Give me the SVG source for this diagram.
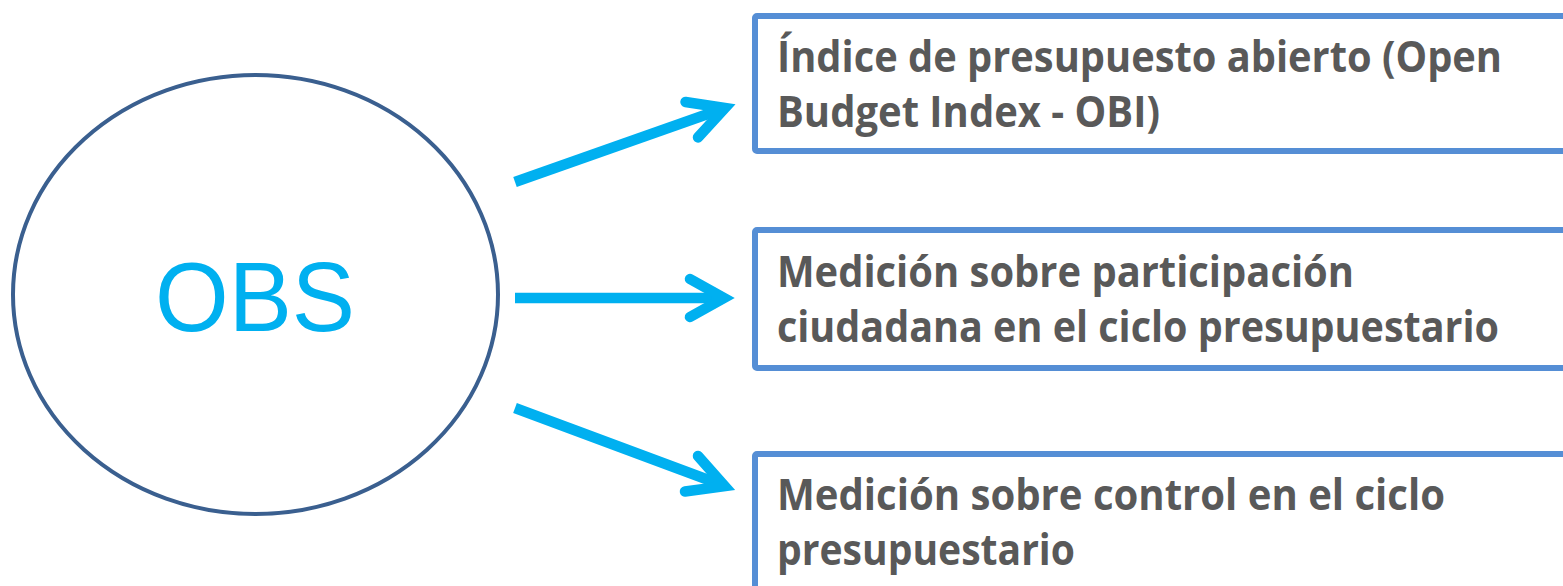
<svg xmlns="http://www.w3.org/2000/svg" width="1563" height="586" viewBox="0 0 1563 586">
<style>
.box{fill:#ffffff;stroke:#558ED5;stroke-width:6}
.lbl{font-family:"Open Sans","Liberation Sans",sans-serif;font-weight:700;font-size:43px;fill:#595959}
.shaft{fill:none;stroke:#00B0F0;stroke-width:10.5;stroke-linecap:butt}
.head{fill:none;stroke:#00B0F0;stroke-width:10.5;stroke-linecap:round;stroke-linejoin:miter;stroke-miterlimit:10}
</style>
<rect width="1563" height="586" fill="#ffffff"/>
<g id="obs">
<ellipse cx="255.5" cy="294.5" rx="242.5" ry="219.5" fill="#ffffff" stroke="#3A5F8F" stroke-width="4"/>
<text x="255" y="331" text-anchor="middle" font-family="Liberation Sans, Arial, sans-serif" font-size="98" textLength="200" lengthAdjust="spacingAndGlyphs" fill="#00B0F0">OBS</text>
</g>
<g id="box-obi">
<rect class="box" x="755" y="16" width="900" height="135" rx="2"/>
<text class="lbl" x="777" y="72" textLength="725" lengthAdjust="spacingAndGlyphs">Índice de presupuesto abierto (Open</text>
<text class="lbl" x="777" y="127" textLength="383" lengthAdjust="spacingAndGlyphs">Budget Index - OBI)</text>
</g>
<g id="box-participacion">
<rect class="box" x="755" y="230" width="900" height="138" rx="2"/>
<text class="lbl" x="777" y="287" textLength="577" lengthAdjust="spacingAndGlyphs">Medición sobre participación</text>
<text class="lbl" x="777" y="342" textLength="722" lengthAdjust="spacingAndGlyphs">ciudadana en el ciclo presupuestario</text>
</g>
<g id="box-control">
<rect class="box" x="755" y="454" width="900" height="200" rx="2"/>
<text class="lbl" x="777" y="510" textLength="668" lengthAdjust="spacingAndGlyphs">Medición sobre control en el ciclo</text>
<text class="lbl" x="777" y="565" textLength="298" lengthAdjust="spacingAndGlyphs">presupuestario</text>
</g>
<g id="connectors">
<line class="shaft" x1="515" y1="182" x2="722" y2="109"/>
<polyline class="head" points="685.5,102 725,108 698,137.4"/>
<line class="shaft" x1="515" y1="298" x2="722" y2="298"/>
<polyline class="head" points="690,279 724,298 690,317"/>
<line class="shaft" x1="515" y1="408" x2="722" y2="485"/>
<polyline class="head" points="698,456 724.7,486.2 685,491.5"/>
</g>
</svg>
